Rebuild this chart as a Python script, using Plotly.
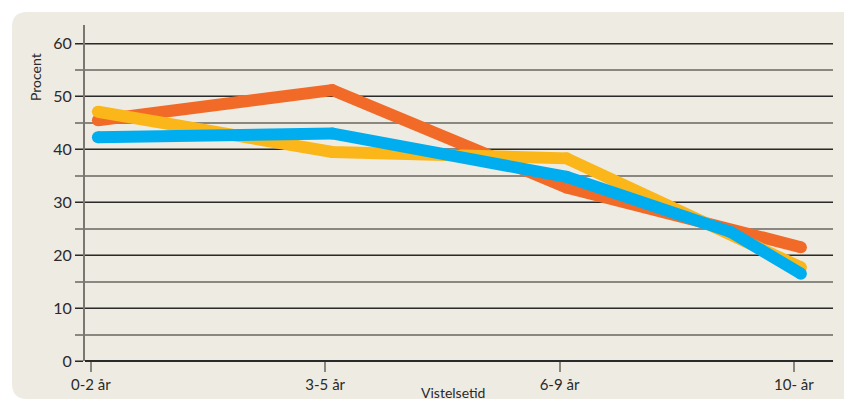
import plotly.graph_objects as go

# data
categories = ['0-2 år', '3-5 år', '6-9 år', '10- år']
x_pos = [0, 1, 2, 3]
orange_vals = [45.5, 51.2, 32.8, 21.5]
yellow_vals = [47.1, 39.5, 38.3, 17.7]
# blue has an extra bend between 6-9 and 10-
blue_x = [0, 1, 2, 2.7, 3]
blue_vals = [42.3, 43.0, 34.8, 24.4, 16.5]

ORANGE = '#F26A27'
YELLOW = '#FBB61A'
BLUE = '#00AEEF'
PANEL = '#EEEBE3'
DARK = '#2a2a2a'
GREY = '#8a8680'

fig = go.Figure()

for xs, ys, col in [(x_pos, orange_vals, ORANGE),
                    (x_pos, yellow_vals, YELLOW),
                    (blue_x, blue_vals, BLUE)]:
    fig.add_trace(go.Scatter(
        x=xs, y=ys, mode='lines+markers',
        line=dict(color=col, width=12),
        marker=dict(color=col, size=12, line=dict(width=0)),
        showlegend=False, hoverinfo='skip'
    ))

# beige panel with rounded left corners
rx, ry = 0.02, 0.045
x0, x1 = -0.0976, 1.1
yt, yb = 1.0387, -0.113
path = (f'M {x1},{yb} L {x0+rx},{yb} Q {x0},{yb} {x0},{yb+ry} '
        f'L {x0},{yt-ry} Q {x0},{yt} {x0+rx},{yt} L {x1},{yt} Z')
fig.add_shape(type='path', path=path, xref='paper', yref='paper',
              fillcolor=PANEL, line=dict(width=0), layer='below')

# axis titles as annotations (y title sits near the top in the original)
fig.add_annotation(text='Procent', textangle=-90, xref='paper', yref='paper',
                   x=-0.067, y=0.845, xanchor='center', yanchor='middle',
                   showarrow=False, font=dict(size=14))
fig.add_annotation(text='Vistelsetid', xref='paper', yref='paper',
                   x=0.492, y=-0.093, xanchor='center', yanchor='middle',
                   showarrow=False, font=dict(size=14))

# page body has an 8px margin, so margins are shifted to compensate
fig.update_layout(
    width=852, height=401,
    margin=dict(l=77, r=27, t=17, b=48),
    paper_bgcolor='white',
    plot_bgcolor=PANEL,
    font=dict(family='Lato, Noto Sans, sans-serif', color='#2a2a2a'),
)

fig.update_xaxes(
    automargin=False,
    range=[-0.055, 3.137],
    tickvals=[v - 0.03 for v in x_pos],
    ticktext=categories,
    ticks='outside', ticklen=10, tickcolor=GREY, tickwidth=1.5,
    tickfont=dict(size=15),
    showgrid=False, zeroline=False, showline=False,
)

fig.update_yaxes(
    automargin=False,
    range=[0, 63.5],
    tickvals=[0, 10, 20, 30, 40, 50, 60],
    ticks='outside', ticklen=8, tickcolor=DARK, tickwidth=1.2,
    tickfont=dict(size=16),
    showgrid=True, gridcolor=DARK, gridwidth=1.2,
    zeroline=True, zerolinecolor=DARK, zerolinewidth=1.5,
    showline=True, linecolor='#7a7772', linewidth=2,
    minor=dict(dtick=5, showgrid=True, gridcolor=GREY, gridwidth=2,
               ticks='outside', ticklen=8, tickcolor=GREY, tickwidth=2),
)

fig.write_html('out.html')
